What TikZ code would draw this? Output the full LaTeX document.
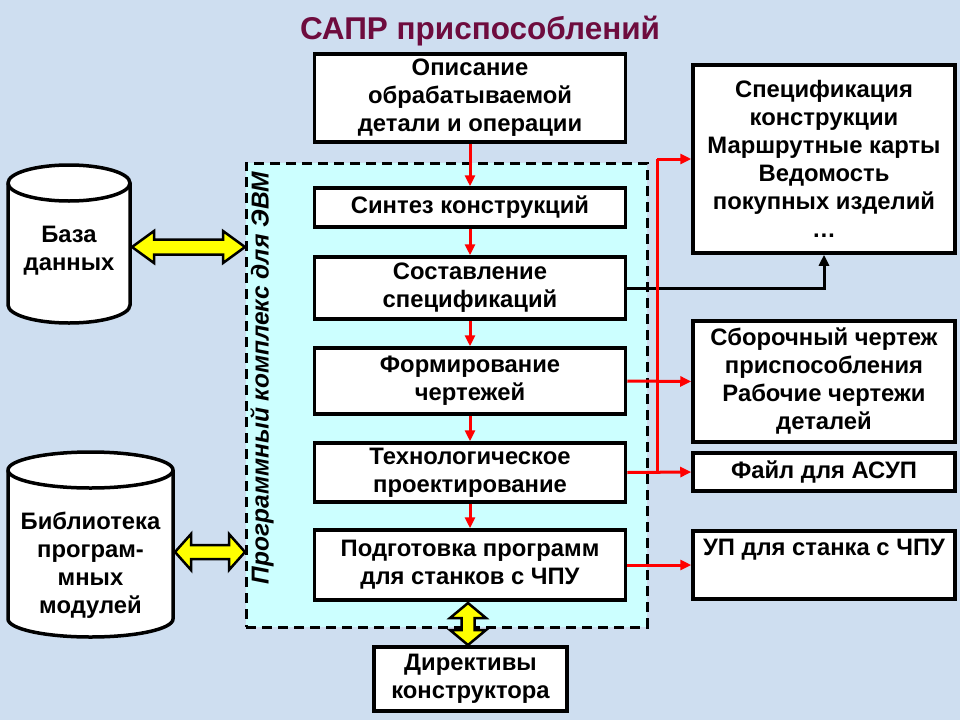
\documentclass[tikz,border=0pt]{standalone}
\usepackage{fontspec}
\setmainfont{Liberation Sans}
\usetikzlibrary{arrows.meta,calc}
\definecolor{bgblue}{RGB}{206,222,240}
\definecolor{cyanfill}{RGB}{204,255,255}
\definecolor{titlecol}{RGB}{110,12,62}
\definecolor{yell}{RGB}{255,255,0}
\newcommand{\yhar}[6]{%
 \draw[yarr] (#1,#3) -- ({#1+#6},{#3-#5}) -- ({#1+#6},{#3-#4}) -- ({#2-#6},{#3-#4}) -- ({#2-#6},{#3-#5}) -- (#2,#3) -- ({#2-#6},{#3+#5}) -- ({#2-#6},{#3+#4}) -- ({#1+#6},{#3+#4}) -- ({#1+#6},{#3+#5}) -- cycle;}
\newcommand{\yvar}[6]{%
 \draw[yarr] (#1,#2) -- ({#1+#5},{#2+#6}) -- ({#1+#4},{#2+#6}) -- ({#1+#4},{#3-#6}) -- ({#1+#5},{#3-#6}) -- (#1,#3) -- ({#1-#5},{#3-#6}) -- ({#1-#4},{#3-#6}) -- ({#1-#4},{#2+#6}) -- ({#1-#5},{#2+#6}) -- cycle;}
\begin{document}
\begin{tikzpicture}[x=1pt,y=-1pt,
 txt/.style={font=\fontsize{23.8}{28}\selectfont\bfseries,align=center,inner sep=0pt},
 box/.style={txt,draw=black,line width=3.5pt,fill=white},
 cont/.style={draw=black,line width=3pt,dash pattern=on 10pt off 6pt,fill=cyanfill,inner sep=0pt},
 cyl/.style={draw=black,line width=3.5pt,fill=white},
 yarr/.style={draw=black,line width=2.5pt,fill=yell,line join=miter},
 redarr/.style={draw=red,line width=3pt,-{Triangle[length=11pt,width=10pt]}},
 redline/.style={draw=red,line width=3pt},
 blkarr/.style={draw=black,line width=3pt,-{Triangle[length=11pt,width=10pt]}}]
\useasboundingbox (0,0) rectangle (960,720);
\fill[bgblue] (0,0) rectangle (960,720);
% title
\node[font=\fontsize{31.5}{34}\selectfont\bfseries,text=titlecol,inner sep=0pt] (title) at (480,31) {САПР приспособлений};
% container
\node[cont,minimum width=401pt,minimum height=464pt] (cont) at (446.5,395) {};
\node[txt,font=\fontsize{24.5}{28}\selectfont\bfseries\itshape,rotate=90] (prog) at (262,378) {Программный комплекс для ЭВМ};
% main boxes
\node[box,minimum width=311pt,minimum height=88pt] (op) at (470,98) {Описание\\обрабатываемой\\детали и операции};
\node[box,minimum width=311pt,minimum height=39pt] (sin) at (470,207.5) {Синтез конструкций};
\node[box,minimum width=311pt,minimum height=62pt] (sos) at (470,288) {Составление\\спецификаций};
\node[box,minimum width=311pt,minimum height=66pt] (form) at (470,381) {Формирование\\чертежей};
\node[box,minimum width=311pt,minimum height=59pt] (tech) at (470,472.5) {Технологическое\\проектирование};
\node[box,minimum width=311pt,minimum height=70pt] (podg) at (470,565) {Подготовка программ\\для станков с ЧПУ};
\node[box,minimum width=193pt,minimum height=64pt] (dir) at (470.5,679) {Директивы\\конструктора};
% right boxes
\node[box,minimum width=262pt,minimum height=188pt] (spec) at (824,159) {Спецификация\\конструкции\\Маршрутные карты\\Ведомость\\покупных изделий\\\dots};
\node[box,minimum width=262pt,minimum height=121pt] (sbor) at (824,381.5) {Сборочный чертеж\\приспособления\\Рабочие чертежи\\деталей};
\node[box,minimum width=262pt,minimum height=38pt] (file) at (824,472) {Файл для АСУП};
\node[box,minimum width=262pt,minimum height=68pt] (up) at (824,565) {};
\node[txt] (uptxt) at (824,550) {УП для станка с ЧПУ};
% cylinders
\path[cyl] (8,183) -- (8,305) arc[start angle=180,end angle=360,x radius=61pt,y radius=18pt] -- (130,183) arc[start angle=0,end angle=180,x radius=61pt,y radius=18pt] -- cycle;
\draw[cyl,fill=none] (8,183) arc[start angle=180,end angle=360,x radius=61pt,y radius=18pt];
\node[txt] (db) at (69,251) {База\\данных};
\path[cyl] (8,470) -- (8,619) arc[start angle=180,end angle=360,x radius=82.5pt,y radius=18pt] -- (173,470) arc[start angle=0,end angle=180,x radius=82.5pt,y radius=18pt] -- cycle;
\draw[cyl,fill=none] (8,470) arc[start angle=180,end angle=360,x radius=82.5pt,y radius=18pt];
\node[txt] (lib) at (90.5,565) {Библиотека\\програм-\\мных\\модулей};
% yellow double arrows
\yhar{132}{245}{247}{7.5}{16}{22}
\yhar{175}{245}{552}{7}{18}{16}
\yvar{468}{603}{645}{6.5}{18}{15}
% flow arrows
\draw[redarr] (op.south) -- (sin.north);
\draw[redarr] (sin.south) -- (sos.north);
\draw[redarr] (sos.south) -- (form.north);
\draw[redarr] (form.south) -- (tech.north);
\draw[redarr] (tech.south) -- (podg.north);
% outputs
\draw[blkarr] (sos.east) -| (spec.south);
\coordinate (vbot) at (657,472);
\coordinate (vtop) at (657,159);
\draw[redline] (vbot) -- (vtop);
\draw[redarr] (vtop) -- (spec.west);
\draw[redarr] (form.east) -- (sbor.west);
\draw[redarr] (tech.east) -- (file.west);
\draw[redarr] (podg.east) -- (up.west);
\end{tikzpicture}
\end{document}
